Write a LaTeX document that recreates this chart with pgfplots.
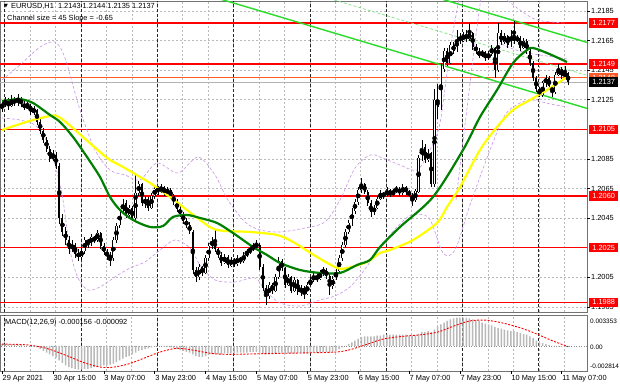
\documentclass[border=0pt]{standalone}
\usepackage{pgfplots}
\pgfplotsset{compat=1.18}
\usepackage{pgfplotstable}
\usepackage{fontspec}
\setmainfont{Liberation Sans}
\newfontfamily\dejavu{DejaVu Sans}
\definecolor{mtred}{RGB}{255,0,0}
\definecolor{mtorange}{RGB}{255,90,40}
\definecolor{mtgreen}{RGB}{0,128,0}
\definecolor{mtyellow}{RGB}{255,255,0}
\definecolor{mtlime}{RGB}{40,220,40}
\definecolor{mtlgreen}{RGB}{130,225,130}
\definecolor{mtviolet}{RGB}{200,150,230}
\definecolor{mtgrid}{RGB}{185,185,185}
\definecolor{mthist}{RGB}{185,185,185}
\newcommand\lab{\fontsize{7.4bp}{8.5bp}\selectfont}
\newcommand\labs{\fontsize{6.4bp}{7.5bp}\selectfont}

\pgfplotstableread{
i o h l c m
0 1.2119 1.2125 1.2117 1.2122 0.0002
1 1.2122 1.2127 1.2120 1.2124 0.0002
2 1.2124 1.2126 1.2118 1.2121 0.0002
3 1.2121 1.2128 1.2120 1.2125 0.0002
4 1.2125 1.2127 1.2121 1.2123 0.0001
5 1.2123 1.2129 1.2121 1.2126 0.0001
6 1.2126 1.2127 1.2120 1.2122 0.0001
7 1.2122 1.2124 1.2118 1.2120 0.0000
8 1.2120 1.2124 1.2119 1.2121 0.0000
9 1.2121 1.2122 1.2115 1.2117 -0.0001
10 1.2117 1.2121 1.2115 1.2118 -0.0001
11 1.2118 1.2119 1.2108 1.2110 -0.0002
12 1.2110 1.2112 1.2102 1.2104 -0.0004
13 1.2104 1.2106 1.2096 1.2098 -0.0006
14 1.2098 1.2100 1.2090 1.2092 -0.0008
15 1.2092 1.2094 1.2083 1.2085 -0.0010
16 1.2085 1.2091 1.2084 1.2088 -0.0012
17 1.2088 1.2090 1.2078 1.2080 -0.0014
18 1.2080 1.2082 1.2041 1.2045 -0.0017
19 1.2045 1.2048 1.2033 1.2036 -0.0020
20 1.2036 1.2039 1.2027 1.2030 -0.0023
21 1.2030 1.2033 1.2021 1.2024 -0.0025
22 1.2024 1.2030 1.2022 1.2027 -0.0026
23 1.2027 1.2028 1.2018 1.2021 -0.0027
24 1.2021 1.2024 1.2016 1.2019 -0.0028
25 1.2019 1.2025 1.2017 1.2023 -0.0028
26 1.2023 1.2032 1.2021 1.2030 -0.0027
27 1.2030 1.2031 1.2025 1.2028 -0.0027
28 1.2028 1.2034 1.2026 1.2032 -0.0026
29 1.2032 1.2033 1.2028 1.2030 -0.0025
30 1.2030 1.2037 1.2029 1.2035 -0.0024
31 1.2035 1.2036 1.2024 1.2026 -0.0024
32 1.2026 1.2028 1.2020 1.2022 -0.0023
33 1.2022 1.2024 1.2017 1.2020 -0.0023
34 1.2020 1.2022 1.2013 1.2018 -0.0022
35 1.2018 1.2032 1.2016 1.2030 -0.0021
36 1.2030 1.2042 1.2028 1.2040 -0.0019
37 1.2040 1.2052 1.2038 1.2050 -0.0017
38 1.2050 1.2058 1.2048 1.2055 -0.0015
39 1.2055 1.2057 1.2045 1.2047 -0.0013
40 1.2047 1.2054 1.2045 1.2052 -0.0012
41 1.2052 1.2053 1.2043 1.2045 -0.0010
42 1.2045 1.2074 1.2044 1.2062 -0.0008
43 1.2062 1.2070 1.2060 1.2068 -0.0006
44 1.2068 1.2069 1.2053 1.2055 -0.0005
45 1.2055 1.2060 1.2052 1.2058 -0.0004
46 1.2058 1.2059 1.2050 1.2052 -0.0003
47 1.2052 1.2062 1.2051 1.2060 -0.0002
48 1.2060 1.2067 1.2058 1.2065 -0.0001
49 1.2065 1.2067 1.2061 1.2063 0.0000
50 1.2063 1.2068 1.2062 1.2066 0.0000
51 1.2066 1.2067 1.2060 1.2062 -0.0001
52 1.2062 1.2066 1.2061 1.2064 -0.0001
53 1.2064 1.2065 1.2058 1.2060 -0.0002
54 1.2060 1.2061 1.2054 1.2056 -0.0003
55 1.2056 1.2058 1.2049 1.2051 -0.0004
56 1.2051 1.2053 1.2046 1.2048 -0.0005
57 1.2048 1.2049 1.2041 1.2043 -0.0006
58 1.2043 1.2045 1.2038 1.2040 -0.0007
59 1.2040 1.2042 1.2034 1.2036 -0.0008
60 1.2036 1.2037 1.2007 1.2010 -0.0010
61 1.2010 1.2012 1.2002 1.2005 -0.0012
62 1.2005 1.2014 1.2003 1.2012 -0.0013
63 1.2012 1.2013 1.2006 1.2008 -0.0013
64 1.2008 1.2020 1.2007 1.2018 -0.0012
65 1.2018 1.2028 1.2016 1.2026 -0.0011
66 1.2026 1.2032 1.2024 1.2030 -0.0010
67 1.2030 1.2037 1.2022 1.2024 -0.0010
68 1.2024 1.2025 1.2018 1.2020 -0.0010
69 1.2020 1.2022 1.2013 1.2015 -0.0010
70 1.2015 1.2021 1.2014 1.2019 -0.0009
71 1.2019 1.2020 1.2011 1.2013 -0.0009
72 1.2013 1.2019 1.2012 1.2017 -0.0009
73 1.2017 1.2018 1.2012 1.2014 -0.0009
74 1.2014 1.2020 1.2013 1.2018 -0.0008
75 1.2018 1.2019 1.2014 1.2016 -0.0008
76 1.2016 1.2022 1.2015 1.2020 -0.0008
77 1.2020 1.2024 1.2019 1.2022 -0.0008
78 1.2022 1.2026 1.2021 1.2024 -0.0007
79 1.2024 1.2028 1.2023 1.2026 -0.0007
80 1.2026 1.2030 1.2024 1.2027 -0.0007
81 1.2027 1.2028 1.2010 1.2012 -0.0008
82 1.2012 1.2014 1.1996 1.1998 -0.0009
83 1.1998 1.2000 1.1986 1.1992 -0.0010
84 1.1992 1.2002 1.1990 1.2000 -0.0010
85 1.2000 1.2001 1.1994 1.1996 -0.0010
86 1.1996 1.2007 1.1995 1.2005 -0.0009
87 1.2005 1.2019 1.2004 1.2016 -0.0008
88 1.2016 1.2017 1.2009 1.2011 -0.0008
89 1.2011 1.2012 1.1998 1.2000 -0.0009
90 1.2000 1.2007 1.1999 1.2005 -0.0009
91 1.2005 1.2006 1.1994 1.1996 -0.0009
92 1.1996 1.2005 1.1995 1.2003 -0.0009
93 1.2003 1.2004 1.1993 1.1995 -0.0009
94 1.1995 1.2000 1.1992 1.1998 -0.0009
95 1.1998 1.1999 1.1990 1.1994 -0.0009
96 1.1994 1.2002 1.1993 1.2000 -0.0009
97 1.2000 1.2005 1.1999 1.2003 -0.0008
98 1.2003 1.2008 1.2002 1.2006 -0.0008
99 1.2006 1.2007 1.2002 1.2004 -0.0008
100 1.2004 1.2010 1.2003 1.2008 -0.0007
101 1.2008 1.2012 1.2006 1.2010 -0.0007
102 1.2010 1.2011 1.2004 1.2006 -0.0007
103 1.2006 1.2007 1.1993 1.1999 -0.0008
104 1.1999 1.2006 1.1997 1.2004 -0.0007
105 1.2004 1.2011 1.2003 1.2009 -0.0006
106 1.2009 1.2020 1.2008 1.2018 -0.0004
107 1.2018 1.2029 1.2016 1.2027 -0.0002
108 1.2027 1.2038 1.2025 1.2036 0.0000
109 1.2036 1.2044 1.2034 1.2042 0.0002
110 1.2042 1.2052 1.2040 1.2050 0.0004
111 1.2050 1.2058 1.2048 1.2056 0.0006
112 1.2056 1.2066 1.2054 1.2064 0.0008
113 1.2064 1.2072 1.2062 1.2068 0.0010
114 1.2068 1.2069 1.2061 1.2063 0.0011
115 1.2063 1.2064 1.2053 1.2055 0.0011
116 1.2055 1.2057 1.2046 1.2049 0.0011
117 1.2049 1.2054 1.2047 1.2052 0.0011
118 1.2052 1.2060 1.2051 1.2058 0.0012
119 1.2058 1.2064 1.2057 1.2062 0.0012
120 1.2062 1.2063 1.2058 1.2060 0.0013
121 1.2060 1.2066 1.2059 1.2064 0.0013
122 1.2064 1.2065 1.2059 1.2061 0.0013
123 1.2061 1.2065 1.2060 1.2063 0.0013
124 1.2063 1.2067 1.2062 1.2065 0.0013
125 1.2065 1.2066 1.2060 1.2062 0.0013
126 1.2062 1.2068 1.2061 1.2066 0.0013
127 1.2066 1.2067 1.2061 1.2063 0.0013
128 1.2063 1.2064 1.2059 1.2061 0.0012
129 1.2061 1.2062 1.2053 1.2057 0.0012
130 1.2057 1.2065 1.2056 1.2063 0.0012
131 1.2063 1.2088 1.2062 1.2086 0.0014
132 1.2086 1.2098 1.2084 1.2093 0.0016
133 1.2093 1.2095 1.2082 1.2084 0.0016
134 1.2084 1.2092 1.2083 1.2089 0.0017
135 1.2089 1.2090 1.2066 1.2068 0.0016
136 1.2068 1.2132 1.2066 1.2125 0.0019
137 1.2125 1.2136 1.2112 1.2120 0.0022
138 1.2120 1.2150 1.2118 1.2146 0.0025
139 1.2146 1.2160 1.2144 1.2158 0.0027
140 1.2158 1.2160 1.2148 1.2150 0.0029
141 1.2150 1.2164 1.2149 1.2162 0.0031
142 1.2162 1.2164 1.2156 1.2158 0.0032
143 1.2158 1.2172 1.2157 1.2167 0.0033
144 1.2167 1.2170 1.2163 1.2165 0.0033
145 1.2165 1.2171 1.2164 1.2169 0.0033
146 1.2169 1.2172 1.2164 1.2166 0.0033
147 1.2166 1.2177 1.2165 1.2170 0.0032
148 1.2170 1.2171 1.2159 1.2161 0.0031
149 1.2161 1.2163 1.2156 1.2158 0.0030
150 1.2158 1.2160 1.2153 1.2155 0.0029
151 1.2155 1.2159 1.2154 1.2157 0.0027
152 1.2157 1.2158 1.2151 1.2153 0.0026
153 1.2153 1.2158 1.2152 1.2156 0.0025
154 1.2156 1.2162 1.2155 1.2160 0.0024
155 1.2160 1.2161 1.2140 1.2145 0.0022
156 1.2145 1.2177 1.2144 1.2170 0.0021
157 1.2170 1.2172 1.2162 1.2164 0.0020
158 1.2164 1.2170 1.2163 1.2168 0.0019
159 1.2168 1.2169 1.2160 1.2162 0.0018
160 1.2162 1.2172 1.2161 1.2170 0.0017
161 1.2170 1.2178 1.2163 1.2165 0.0017
162 1.2165 1.2169 1.2164 1.2167 0.0016
163 1.2167 1.2168 1.2158 1.2160 0.0015
164 1.2160 1.2167 1.2159 1.2165 0.0014
165 1.2165 1.2166 1.2156 1.2158 0.0013
166 1.2158 1.2159 1.2148 1.2150 0.0011
167 1.2150 1.2151 1.2138 1.2140 0.0009
168 1.2140 1.2141 1.2130 1.2132 0.0006
169 1.2132 1.2134 1.2127 1.2128 0.0004
170 1.2128 1.2138 1.2127 1.2136 0.0003
171 1.2136 1.2142 1.2134 1.2140 0.0002
172 1.2140 1.2141 1.2132 1.2134 0.0001
173 1.2134 1.2135 1.2127 1.2130 0.0000
174 1.2130 1.2144 1.2129 1.2142 0.0000
175 1.2142 1.2149 1.2141 1.2146 -0.0001
176 1.2146 1.2147 1.2139 1.2141 -0.0001
177 1.2141 1.2148 1.2140 1.2143 -0.0001
178 1.2143 1.2144 1.2135 1.2137 -0.000156
}\candles

\pgfplotsset{mtaxis/.style={
  scale only axis, width=587bp, xmin=-0.63, xmax=183.96,
  axis line style={draw=black!55, line width=0.7bp},
  major tick length=0pt, xticklabels={}, yticklabels={},
  xtick={0.8,8.8,...,176.8}, xmajorgrids,
  grid style={mtgrid, line width=0.5bp, dash pattern=on 2bp off 2bp},
  extra x ticks={0.8,24.8,48.8,72.8,96.8,120.8,144.8,168.8},
  extra x tick labels={},
  extra x tick style={grid style={black!85, line width=0.6bp, dash pattern=on 3bp off 2bp}},
  clip=true}}

\begin{document}
\begin{tikzpicture}
\useasboundingbox (0bp,0bp) rectangle (620bp,388bp);
\fill[white] (0bp,0bp) rectangle (620bp,388bp);

% ---------- main price panel ----------
\begin{axis}[mtaxis, at={(0bp,76bp)}, anchor=south west, height=311bp,
  ymin=1.198148, ymax=1.219176,
  ytick={1.1985,1.2005,1.2025,1.2045,1.2065,1.2085,1.2105,1.2125,1.2145,1.2165,1.2185},
  ymajorgrids]
% horizontal levels
\addplot[mtred, line width=1.5bp] coordinates {(-1,1.2177) (185,1.2177)};
\addplot[mtred, line width=1.5bp] coordinates {(-1,1.2149) (185,1.2149)};
\addplot[mtred, line width=1.5bp] coordinates {(-1,1.2105) (185,1.2105)};
\addplot[mtred, line width=1.5bp] coordinates {(-1,1.2060) (185,1.2060)};
\addplot[mtred, line width=1.5bp] coordinates {(-1,1.2025) (185,1.2025)};
\addplot[mtred, line width=1.5bp] coordinates {(-1,1.1988) (185,1.1988)};
\addplot[mtorange, line width=0.6bp] coordinates {(-1,1.2140) (185,1.2140)};
\addplot[black!30, line width=0.5bp] coordinates {(-1,1.2137) (185,1.2137)};
% regression channel
\addplot[mtlime, line width=1.4bp] coordinates {(-1,1.223770) (185,1.211849)};
\addplot[mtlime, line width=1.4bp] coordinates {(-1,1.228231) (185,1.216310)};
\addplot[mtlgreen, line width=0.7bp, dash pattern=on 3bp off 2bp] coordinates {(-1,1.226000) (185,1.214080)};
% envelope bands
\addplot[mtviolet, line width=0.6bp, dash pattern=on 3bp off 2bp, smooth] coordinates {
(0,1.213835) (5.66,1.214850) (11.95,1.216066) (16.67,1.216404) (19.81,1.215323)
(24.53,1.211807) (29.25,1.209103) (33.96,1.207750) (38.68,1.207412) (43.40,1.207074)
(48.74,1.208223) (55.35,1.207548) (61.64,1.208630) (66.98,1.207412) (71.07,1.205722)
(76.42,1.204235) (81.13,1.203694) (87.42,1.203559) (95.28,1.203829) (101.57,1.204235)
(106.29,1.205722) (111.01,1.207886) (115.72,1.208765) (118.87,1.208629) (125.16,1.208088)
(130.5,1.207750) (134.59,1.209103) (137.74,1.210928) (140.88,1.215863) (143.08,1.218568)
(144.65,1.219920) (150.31,1.220258) (156.6,1.219582) (162.89,1.218568) (168.24,1.217892)
(177.04,1.217689)};
\addplot[mtviolet, line width=0.6bp, dash pattern=on 3bp off 2bp, smooth] coordinates {
(0,1.211266) (5.66,1.211131) (10.38,1.210793) (13.52,1.209914) (16.67,1.208089)
(19.18,1.205722) (21.38,1.202342) (23.9,1.200449) (27.04,1.199637) (30.82,1.199840)
(35.53,1.200516) (40.25,1.201125) (44.97,1.201530) (49.69,1.202342) (54.4,1.203018)
(59.12,1.202477) (62.26,1.201328) (66.98,1.200314) (73.27,1.200178) (79.56,1.200449)
(82.7,1.199637) (87.42,1.198758) (93.71,1.198555) (100,1.198961) (104.72,1.199231)
(109.43,1.199840) (113.21,1.200786) (117.3,1.202004) (122.01,1.203356) (125.79,1.204235)
(128.93,1.204708) (134.28,1.204505) (138.68,1.202139) (142.45,1.202342) (147.17,1.205384)
(153.46,1.209103) (158.18,1.211469) (162.89,1.212280) (166.98,1.212483) (172.33,1.212213)
(177.67,1.212010)};
\addplot[mtviolet, line width=0.6bp, dash pattern=on 3bp off 2bp, smooth] coordinates {
(142.77,1.205722) (144.65,1.209103) (146.54,1.212483) (148.43,1.215863) (150.31,1.218906) (150.94,1.219920)};
\addplot[mtviolet, line width=0.6bp, dash pattern=on 3bp off 2bp, smooth] coordinates {
(155.66,1.216404) (160.69,1.215931) (165.09,1.215661) (171.38,1.215458) (177.67,1.215255)};
% candles: wicks
\addplot[only marks, mark=none, forget plot,
  error bars/.cd, y dir=both, y explicit, error mark=none,
  error bar style={black, line width=0.5bp}]
  table[x=i, y expr={(\thisrow{h}+\thisrow{l})/2}, y error expr={(\thisrow{h}-\thisrow{l})/2}] {\candles};
% bearish bodies
\addplot[only marks, mark=none, forget plot,
  restrict expr to domain={\thisrow{c}-\thisrow{o}}{-1:0},
  error bars/.cd, y dir=both, y explicit, error mark=none,
  error bar style={black, line width=2bp}]
  table[x=i, y expr={(\thisrow{o}+\thisrow{c})/2}, y error expr={abs(\thisrow{o}-\thisrow{c})/2}] {\candles};
% bullish bodies
\addplot[only marks, mark=none, forget plot,
  restrict expr to domain={\thisrow{c}-\thisrow{o}}{0:1},
  error bars/.cd, y dir=both, y explicit, error mark=none,
  error bar style={black, line width=2.2bp}]
  table[x=i, y expr={(\thisrow{o}+\thisrow{c})/2}, y error expr={abs(\thisrow{o}-\thisrow{c})/2}] {\candles};
\addplot[only marks, mark=none, forget plot,
  restrict expr to domain={\thisrow{c}-\thisrow{o}}{0:1},
  error bars/.cd, y dir=both, y explicit, error mark=none,
  error bar style={white, line width=0.9bp}]
  table[x=i, y expr={(\thisrow{o}+\thisrow{c})/2}, y error expr={abs(\thisrow{o}-\thisrow{c})/2}] {\candles};
% moving averages
\addplot[mtyellow, line width=2.2bp, smooth] coordinates {
(0,1.210455) (4.72,1.210793) (9.75,1.211131) (15.09,1.211401) (17.30,1.211401)
(20.44,1.210928) (25.47,1.209982) (30.82,1.208968) (33.96,1.208427) (38.05,1.207953)
(43.40,1.207277) (46.54,1.206872) (52.83,1.205925) (62.26,1.204370) (67.61,1.203694)
(77.99,1.203559) (86.48,1.203356) (91.51,1.202883) (99.06,1.201869) (105.35,1.201125)
(108.49,1.201125) (114.78,1.201530) (118.87,1.202139) (122.01,1.202342) (129.25,1.203018)
(136.79,1.204167) (139.94,1.205249) (144.03,1.206601) (150.31,1.209103) (155.66,1.210658)
(160.69,1.211807) (166.04,1.212483) (171.38,1.213159) (177.67,1.214038)};
\addplot[mtgreen, line width=2.2bp, smooth] coordinates {
(0,1.212415) (2.52,1.212483) (5.66,1.212551) (9.75,1.212280) (15.09,1.211469)
(18.24,1.210996) (22.33,1.209982) (26.73,1.208630) (30.82,1.207277) (33.96,1.205925)
(37.11,1.205046) (41.19,1.204370) (46.54,1.203897) (50.63,1.203964) (53.77,1.204573)
(58.18,1.204708) (62.26,1.204505) (67.61,1.204167) (72.64,1.203491) (78.93,1.202545)
(83.33,1.202004) (87.42,1.201463) (93.71,1.200989) (100.0,1.200787) (106.29,1.200787)
(111.64,1.201328) (115.72,1.201666) (118.87,1.202545) (125.16,1.203897) (135.53,1.205925)
(144.97,1.209103) (150.31,1.211333) (155.66,1.213159) (160.69,1.214985) (165.09,1.215864)
(166.98,1.215999) (171.38,1.215661) (177.67,1.215052)};
\end{axis}

% ---------- MACD panel ----------
\begin{axis}[mtaxis, at={(0bp,17bp)}, anchor=south west, height=56bp,
  ymin=-0.00295, ymax=0.0036, ytick=\empty]
\addplot[black!45, line width=0.5bp, dash pattern=on 1bp off 1.5bp] coordinates {(-1,0) (185,0)};
\addplot[ybar, bar width=1.5bp, fill=mthist, draw=none] table[x=i, y=m] {\candles};
\addplot[mtred, line width=0.9bp, dash pattern=on 2bp off 1.5bp, smooth] coordinates {
(0,0.0002) (8,0.0001) (14,-0.0003) (20,-0.0011) (26,-0.0020) (31,-0.0025) (35,-0.0025)
(40,-0.0021) (45,-0.0014) (50,-0.0007) (55,-0.0003) (60,-0.0005) (66,-0.0009) (72,-0.0010)
(85,-0.0009) (100,-0.0008) (106,-0.0007) (110,-0.0004) (115,0.0002) (120,0.0008)
(126,0.0011) (132,0.0013) (137,0.0016) (142,0.0023) (147,0.0029) (152,0.0030)
(157,0.0027) (163,0.0021) (168,0.0014) (173,0.0006) (178,-0.000092)};
\end{axis}

% ---------- texts ----------
\node[anchor=west, inner sep=0pt, font=\dejavu\fontsize{5bp}{6bp}\selectfont] at (4bp,381.3bp) {▼};
\node[anchor=west, inner sep=0pt, font=\lab] at (11bp,381.3bp) {EURUSD,H1\ \ 1.2143 1.2144 1.2135 1.2137};
\node[anchor=west, inner sep=0pt, font=\lab] at (7bp,369.8bp) {Channel size = 45 Slope = -0.65};
\node[anchor=west, inner sep=0pt, font=\lab] at (5bp,65bp) {MACD(12,26,9) -0.000156 -0.000092};

% price scale
\foreach \yy/\tt in {377/1.2185, 347.4/1.2165, 317.8/1.2145, 288.3/1.2125, 229.1/1.2085, 199.5/1.2065, 169.9/1.2045, 110.8/1.2005, 81.2/1.1985}{
  \draw[black, line width=0.5bp] (587bp,\yy bp) -- (590bp,\yy bp);
  \node[anchor=west, inner sep=0pt, font=\lab] at (591bp,\yy bp) {\tt};
}
\foreach \yy/\tt in {365.2/1.2177, 323.8/1.2149, 258.7/1.2105, 192.1/1.2060, 140.4/1.2025, 85.6/1.1988}{
  \node[anchor=west, fill=mtred, text=white, inner sep=0pt, minimum width=29bp, minimum height=9.5bp, font=\lab] at (589bp,\yy bp) {\tt};
}
\node[anchor=west, fill=mtorange, text=white, inner sep=0pt, minimum width=29bp, minimum height=9.5bp, font=\lab] at (589bp,310.5bp) {1.2140};
\node[anchor=west, fill=black, text=white, inner sep=0pt, minimum width=29bp, minimum height=9.5bp, font=\lab] at (589bp,306.1bp) {1.2137};

% MACD scale
\node[anchor=west, inner sep=0pt, font=\labs] at (590bp,67bp) {0.003353};
\node[anchor=west, inner sep=0pt, font=\labs] at (590bp,41bp) {0.00};
\node[anchor=west, inner sep=0pt, font=\labs] at (590bp,22bp) {-0.002814};

% time scale
\foreach \k/\tt in {0/29 Apr 2021, 1/30 Apr 15:00, 2/3 May 07:00, 3/3 May 23:00, 4/4 May 15:00, 5/5 May 07:00, 6/5 May 23:00, 7/6 May 15:00, 8/7 May 07:00, 9/7 May 23:00, 10/10 May 15:00, 11/11 May 07:00}{
  \pgfmathsetmacro\xx{2+50.88*\k}
  \pgfmathsetmacro\xl{2.5+50.88*\k}
  \draw[black, line width=0.5bp] (\xx bp,17bp) -- (\xx bp,13.5bp);
  \node[anchor=west, inner sep=0pt, font=\lab] at (\xl bp,9.5bp) {\tt};
}
\end{tikzpicture}
\end{document}
